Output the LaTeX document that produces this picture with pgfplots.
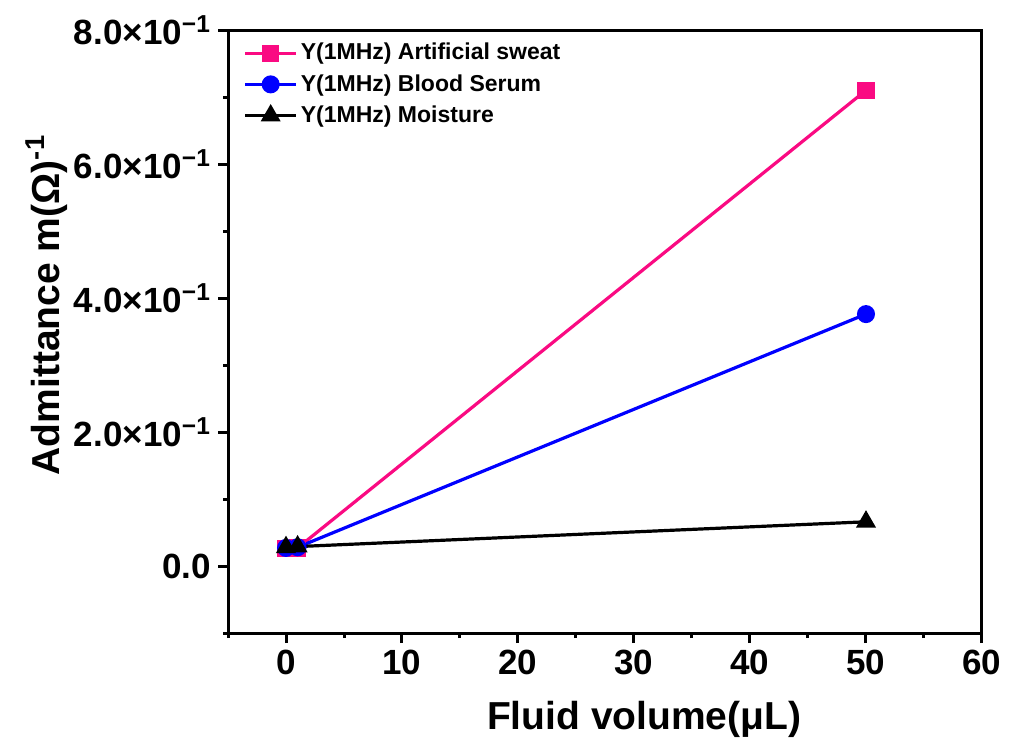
\documentclass[border=0pt]{standalone}
\usepackage{pgfplots}
\pgfplotsset{compat=1.18}
\usepackage{fontspec}
\setmainfont{Liberation Sans}
\definecolor{pinkc}{RGB}{250,10,130}
\definecolor{bluec}{RGB}{0,0,255}
\begin{document}
\begin{tikzpicture}
\begin{axis}[
  scale only axis, width=377pt, height=301.5pt,
  xmin=-5, xmax=60, ymin=-0.1, ymax=0.8,
  xtick={0,10,20,30,40,50,60}, minor xtick={-5,5,15,25,35,45,55},
  ytick={0,0.2,0.4,0.6,0.8}, minor ytick={-0.1,0.1,0.3,0.5,0.7},
  yticklabels={0.0, 2.0×10\textsuperscript{−1}, 4.0×10\textsuperscript{−1}, 6.0×10\textsuperscript{−1}, 8.0×10\textsuperscript{−1}},
  /pgf/number format/assume math mode=true,
  xtick pos=bottom, ytick pos=left, tick align=outside,
  major tick length=5pt, minor tick length=2.5pt,
  every tick/.append style={line width=1.5pt, black},
  every minor tick/.append style={line width=1.5pt, black},
  axis line style={line width=1.5pt},
  tick label style={font=\fontsize{17.5}{20}\selectfont\bfseries},
  xlabel={Fluid volume(μL)},
  ylabel={Admittance m(Ω)\textsuperscript{-1}},
  every axis x label/.style={at={(axis description cs:0.552,-0.144)}, anchor=center, font=\fontsize{19.5}{23}\selectfont\bfseries},
  every axis y label/.style={at={(axis description cs:-0.240,0.544)}, anchor=center, rotate=90, font=\fontsize{19.5}{23}\selectfont\bfseries},
  legend style={at={(axis description cs:0.02,0.982)}, anchor=north west, draw=none, fill=none,
    font=\fontsize{11.5}{13}\selectfont\bfseries, inner sep=0pt, row sep=3.8pt,
    nodes={inner xsep=1.5pt, inner ysep=1pt}},
  legend cell align=left,
  legend image code/.code={\draw[mark repeat=2,mark phase=2] plot coordinates {(0cm,0cm)(0.45cm,0cm)(0.9cm,0cm)};},
  clip=false,
]
\addplot[pinkc, line width=1.6pt, mark=square*, mark size=3.5pt, mark options={solid}] coordinates {(0,0.026) (1,0.027) (50,0.710)};
\addlegendentry{Y(1MHz) Artificial sweat}
\addplot[bluec, line width=1.6pt, mark=*, mark size=3.7pt] coordinates {(0,0.027) (1,0.028) (50,0.376)};
\addlegendentry{Y(1MHz) Blood Serum}
\addplot[black, line width=1.6pt, mark=triangle*, mark size=4.2pt] coordinates {(0,0.028) (1,0.029) (50,0.066)};
\addlegendentry{Y(1MHz) Moisture}
\coordinate (bbsw) at (axis description cs:-0.3024,-0.1857);
\coordinate (bbne) at (axis description cs:1.0451,1.0498);
\end{axis}
\pgfresetboundingbox
\path[use as bounding box] (bbsw) rectangle (bbne);
\end{tikzpicture}
\end{document}
